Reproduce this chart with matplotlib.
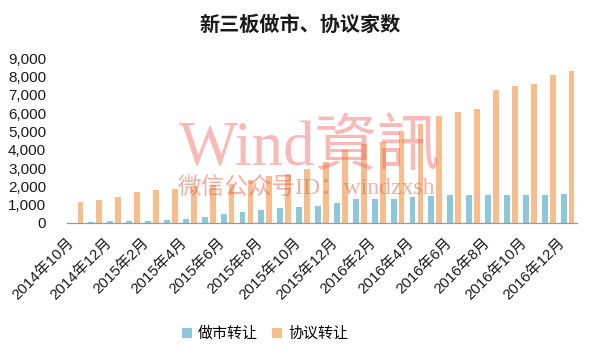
import matplotlib
matplotlib.use("Agg")
import matplotlib.pyplot as plt
import numpy as np
from matplotlib.ticker import FuncFormatter

# --- Data (2014-10 .. 2016-12, monthly) ---
months = ['2014年10月', '2014年11月', '2014年12月', '2015年1月', '2015年2月', '2015年3月',
          '2015年4月', '2015年5月', '2015年6月', '2015年7月', '2015年8月', '2015年9月',
          '2015年10月', '2015年11月', '2015年12月', '2016年1月', '2016年2月', '2016年3月',
          '2016年4月', '2016年5月', '2016年6月', '2016年7月', '2016年8月', '2016年9月',
          '2016年10月', '2016年11月', '2016年12月']
market_making = [8, 55, 110, 110, 110, 165, 220, 330, 495, 600, 700, 830, 860, 920,
                 1100, 1285, 1315, 1320, 1395, 1465, 1550, 1555, 1555, 1555, 1555, 1555, 1560]
agreement = [1140, 1250, 1410, 1690, 1800, 1860, 2040, 2100, 2110, 2340, 2560, 2680, 2950,
             3330, 3990, 4320, 4420, 5000, 5420, 5860, 6080, 6250, 7240, 7460, 7620, 8070, 8280]
series_names = ['做市转让', '协议转让']
title = '新三板做市、协议家数'

# --- Style ---
blue = '#8CC7DA'
orange = '#F8BD8D'
cjk = ['Liberation Sans', 'Noto Sans CJK SC']
plt.rcParams['font.family'] = cjk

fig = plt.figure(figsize=(6, 3.6), dpi=100)
ax = fig.add_axes([0.1117, 0.3806, 0.85, 0.4575])

x = np.arange(len(months))
w = 0.31
ax.bar(x - 0.21, market_making, w, color=blue, label=series_names[0], zorder=2)
ax.bar(x + 0.21, agreement, w, color=orange, label=series_names[1], zorder=2)

ax.set_xlim(-0.5, len(months) - 0.5)
ax.set_ylim(0, 9000)
ax.set_yticks(np.arange(0, 9001, 1000))
ax.yaxis.set_major_formatter(FuncFormatter(lambda v, p: f'{int(v):,}'))
ax.tick_params(axis='y', length=0, pad=15, labelsize=11, labelcolor='#1a1a1a')

ticks = x[::2]
ax.set_xticks(ticks)
ax.set_xticklabels([months[i] for i in ticks], rotation=45, ha='right',
                   fontsize=10.8, color='#1a1a1a')
ax.tick_params(axis='x', length=0, pad=9)

for s in ['top', 'right', 'left']:
    ax.spines[s].set_visible(False)
ax.spines['bottom'].set_color('#9a9a9a')
ax.spines['bottom'].set_linewidth(0.9)

fig.text(0.5, 1 - 24 / 360, title, ha='center', va='center', fontsize=14.5,
         fontweight='bold', family=['Noto Sans CJK SC'], color='#1a1a1a')

fig.legend(loc='center', bbox_to_anchor=(265 / 600, 1 - 334 / 360), ncol=2, frameon=False,
           handlelength=0.7, handleheight=0.7, handletextpad=0.4,
           columnspacing=0.9, prop={'family': ['Noto Sans CJK SC'], 'size': 10.8})

# watermark
fig.text(310 / 600, 1 - 165 / 360, 'Wind資訊', ha='center', va='baseline', fontsize=45,
         family=['Liberation Serif', 'Noto Sans CJK TC'], color='#F06464', alpha=0.45, zorder=5)
fig.text(306 / 600, 1 - 189 / 360, '微信公众号ID：windzxsh', ha='center', va='center',
         fontsize=17, family=['Liberation Serif', 'Noto Sans CJK SC'],
         color='#E0604A', alpha=0.5, zorder=5)

fig.savefig('out.png', dpi=100)
